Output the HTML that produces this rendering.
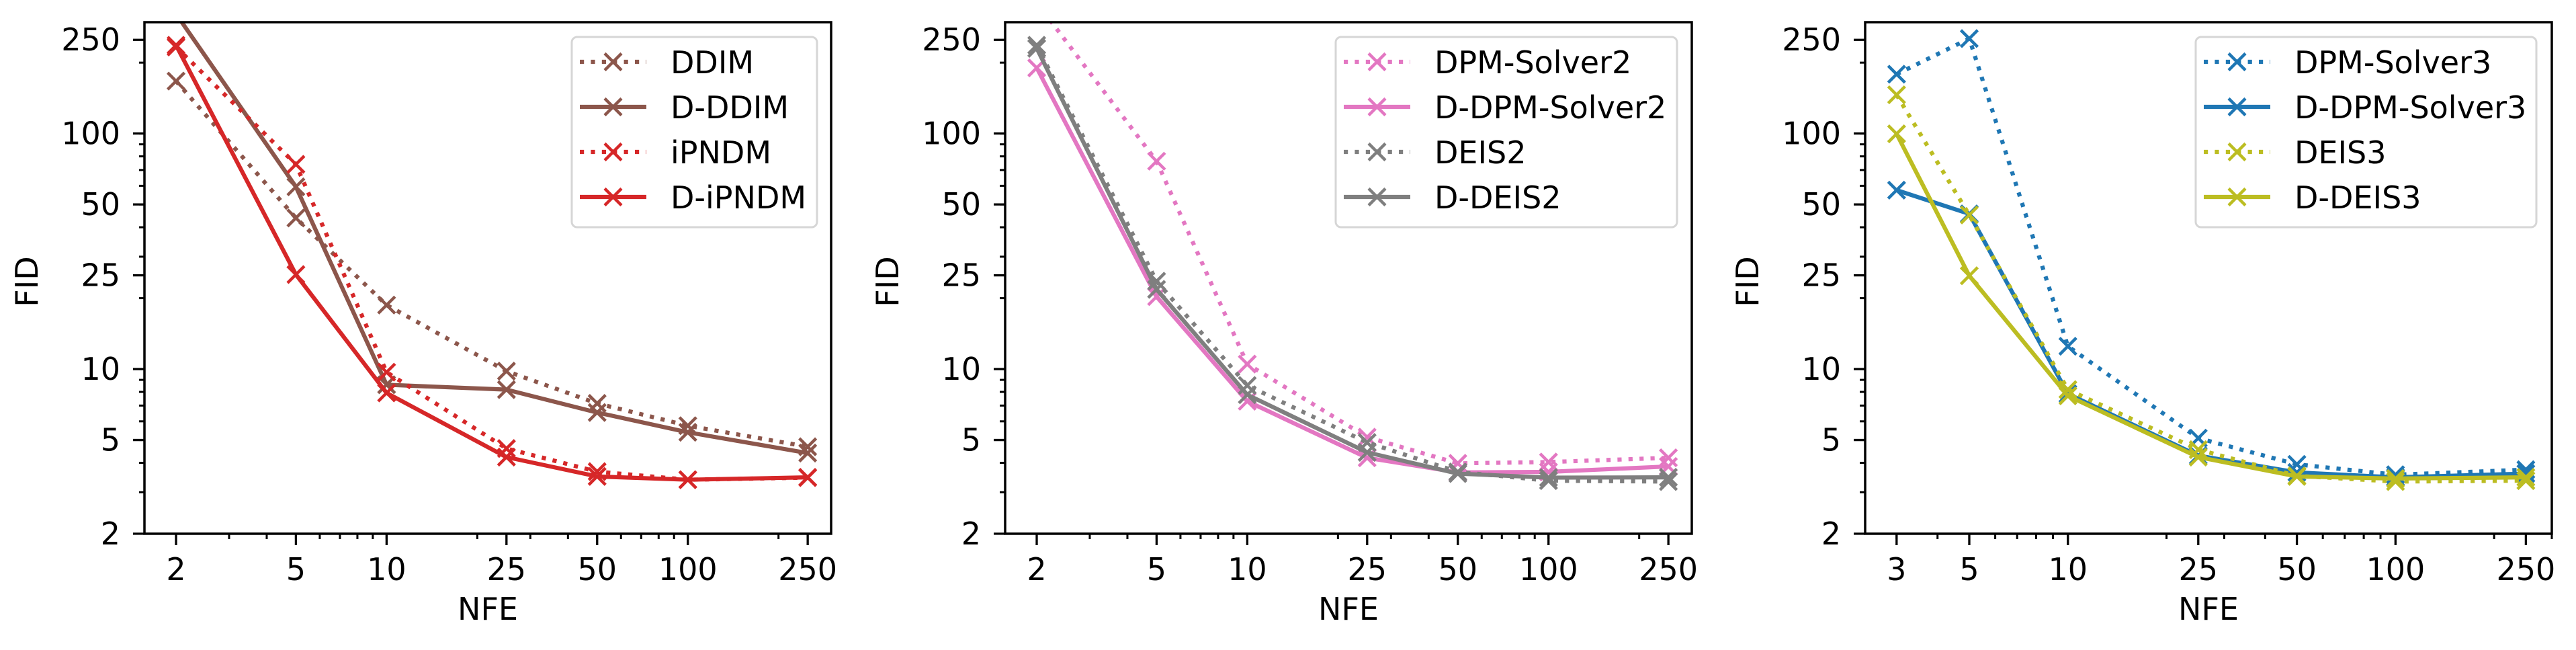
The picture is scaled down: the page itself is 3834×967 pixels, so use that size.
<!DOCTYPE html>
<html><head><meta charset="utf-8"><style>
html,body{margin:0;padding:0;background:#fff;}
svg{display:block;}
text{font-family:"DejaVu Sans","Liberation Sans",sans-serif;fill:#000;}
</style></head><body>
<svg id="chart" width="3834" height="967" viewBox="0 0 3834 967" xmlns="http://www.w3.org/2000/svg"></svg>
<script>
// ---- data ----
const nfeA = [2, 5, 10, 25, 50, 100, 250];
const nfeB = [2, 5, 10, 25, 50, 100, 250];
const nfeC = [3, 5, 10, 25, 50, 100, 250];
const xTickLabelsA = [2, 5, 10, 25, 50, 100, 250];
const xTickLabelsC = [3, 5, 10, 25, 50, 100, 250];
const yTickLabels = [2, 5, 10, 25, 50, 100, 250];

const ddim      = [167, 43.8, 18.7, 9.8, 7.15, 5.75, 4.68];
const dDdim     = [322, 59.4, 8.58, 8.18, 6.54, 5.39, 4.4];
const ipndm     = [233, 74, 9.7, 4.6, 3.67, 3.39, 3.46];
const dIpndm    = [237, 25.2, 7.92, 4.23, 3.5, 3.39, 3.47];

const dpm2      = [360, 76.3, 10.5, 5.14, 3.98, 4.03, 4.2];
const dDpm2     = [190, 20.3, 7.3, 4.2, 3.64, 3.66, 3.86];
const deis2     = [237, 23.6, 8.52, 4.88, 3.66, 3.36, 3.33];
const dDeis2    = [230, 21.8, 7.78, 4.43, 3.6, 3.46, 3.47];

const dpm3      = [178.6, 253, 12.5, 5.09, 3.94, 3.56, 3.74];
const dDpm3     = [57.5, 45.6, 7.85, 4.29, 3.64, 3.47, 3.6];
const deis3     = [146, 45.1, 8.18, 4.55, 3.52, 3.33, 3.36];
const dDeis3    = [99.7, 24.9, 7.7, 4.23, 3.5, 3.43, 3.47];

// ---- layout ----
const NS = "http://www.w3.org/2000/svg";
const svg = document.getElementById('chart');
function mk(tag, attrs, parent){const e=document.createElementNS(NS,tag);for(const k in attrs)e.setAttribute(k,attrs[k]);(parent||svg).appendChild(e);return e;}

const TOP=33, BOT=794, YMIN=2, YMAX=297;
const panels = [
  {id:'left', L:215, R:1237, xmin:1.571, xmax:299, x:nfeA, xt:xTickLabelsA, legL:851, legR:1216,
   series:[{n:'DDIM',v:ddim,c:'#8c564b',d:true},{n:'D-DDIM',v:dDdim,c:'#8c564b',d:false},{n:'iPNDM',v:ipndm,c:'#d62728',d:true},{n:'D-iPNDM',v:dIpndm,c:'#d62728',d:false}]},
  {id:'middle', L:1496, R:2518, xmin:1.571, xmax:299, x:nfeB, xt:xTickLabelsA, legL:1988, legR:2496,
   series:[{n:'DPM-Solver2',v:dpm2,c:'#e377c2',d:true},{n:'D-DPM-Solver2',v:dDpm2,c:'#e377c2',d:false},{n:'DEIS2',v:deis2,c:'#7f7f7f',d:true},{n:'D-DEIS2',v:dDeis2,c:'#7f7f7f',d:false}]},
  {id:'right', L:2776, R:3798, xmin:2.405, xmax:300, x:nfeC, xt:xTickLabelsC, legL:3268, legR:3775,
   series:[{n:'DPM-Solver3',v:dpm3,c:'#1f77b4',d:true},{n:'D-DPM-Solver3',v:dDpm3,c:'#1f77b4',d:false},{n:'DEIS3',v:deis3,c:'#bcbd22',d:true},{n:'D-DEIS3',v:dDeis3,c:'#bcbd22',d:false}]}
];

function yScale(v){return BOT-(Math.log10(v)-Math.log10(YMIN))/(Math.log10(YMAX)-Math.log10(YMIN))*(BOT-TOP);}
function minorVals(lo,hi){const out=[];for(let d=-1;d<4;d++){for(let m=1;m<10;m++){const v=m*Math.pow(10,d);if(v>=lo&&v<=hi)out.push(v);}}return out;}
function xMarker(g,x,y,c){const s=12.5;mk('path',{d:`M${x-s},${y-s}L${x+s},${y+s}M${x-s},${y+s}L${x+s},${y-s}`,stroke:c,'stroke-width':4.5,fill:'none'},g);}

panels.forEach((p,pi)=>{
  const xScale=v=>p.L+(Math.log10(v)-Math.log10(p.xmin))/(Math.log10(p.xmax)-Math.log10(p.xmin))*(p.R-p.L);
  const g=mk('g',{});
  
  
  const cid='clip'+pi;
  const cp=mk('clipPath',{id:cid},g);mk('rect',{x:p.L,y:TOP,width:p.R-p.L,height:BOT-TOP},cp);
  // series
  p.series.forEach(s=>{
    const sg=mk('g',{'clip-path':`url(#${cid})`},g);
    
    
    const pts=p.x.map((xv,i)=>[xScale(xv),yScale(s.v[i])]);
    const attrs={points:pts.map(q=>q.join(',')).join(' '),fill:'none',stroke:s.c,'stroke-width':6.2};
    if(s.d){attrs['stroke-dasharray']='6.2,10.2';}
    const ln=mk('polyline',attrs,sg);
    
    
    pts.forEach(q=>xMarker(sg,q[0],q[1],s.c));
  });
  // ticks
  const ax=mk('g',{},g);
  
  
  minorVals(YMIN,YMAX).forEach(v=>{const y=yScale(v);mk('line',{x1:p.L-8,x2:p.L,y1:y,y2:y,stroke:'#000','stroke-width':3},ax);});
  yTickLabels.forEach(v=>{const y=yScale(v);mk('line',{x1:p.L-17,x2:p.L,y1:y,y2:y,stroke:'#000','stroke-width':3.3},ax);
    const t=mk('text',{x:p.L-36,y:y+16,'font-size':46,'text-anchor':'end'},ax);t.textContent=v;
    });
  minorVals(p.xmin,p.xmax).forEach(v=>{const x=xScale(v);mk('line',{x1:x,x2:x,y1:BOT,y2:BOT+8,stroke:'#000','stroke-width':3},ax);});
  p.xt.forEach(v=>{const x=xScale(v);mk('line',{x1:x,x2:x,y1:BOT,y2:BOT+17,stroke:'#000','stroke-width':3.3},ax);
    const t=mk('text',{x:x,y:863,'font-size':46,'text-anchor':'middle'},ax);t.textContent=v;
    });
  mk('rect',{x:p.L,y:TOP,width:p.R-p.L,height:BOT-TOP,fill:'none',stroke:'#000','stroke-width':3.5},ax);
  const xl=mk('text',{x:(p.L+p.R)/2,y:922,'font-size':46,'text-anchor':'middle'},ax);xl.textContent='NFE';
  
  const yx=p.L-159, yy=419;
  const yl=mk('text',{x:yx,y:yy,'font-size':46,'text-anchor':'middle',transform:`rotate(-90 ${yx} ${yy})`},ax);yl.textContent='FID';
  
  // legend
  const lg=mk('g',{},g);
  
  
  mk('rect',{x:p.legL,y:55,width:p.legR-p.legL,height:283,rx:8,fill:'#fff','fill-opacity':0.8,stroke:'#d6d6d6','stroke-width':3},lg);
  p.series.forEach((s,i)=>{
    const y=92+i*67, h0=p.legL+12, h1=p.legL+111;
    const e=mk('g',{},lg);
    
    
    const a={x1:h0,x2:h1,y1:y,y2:y,stroke:s.c,'stroke-width':6.2};
    if(s.d)a['stroke-dasharray']='6.2,10.2';
    mk('line',a,e);
    xMarker(e,(h0+h1)/2,y,s.c);
    const t=mk('text',{x:p.legL+147,y:y+17,'font-size':46},e);t.textContent=s.n;
  });
});
</script>
</body></html>
